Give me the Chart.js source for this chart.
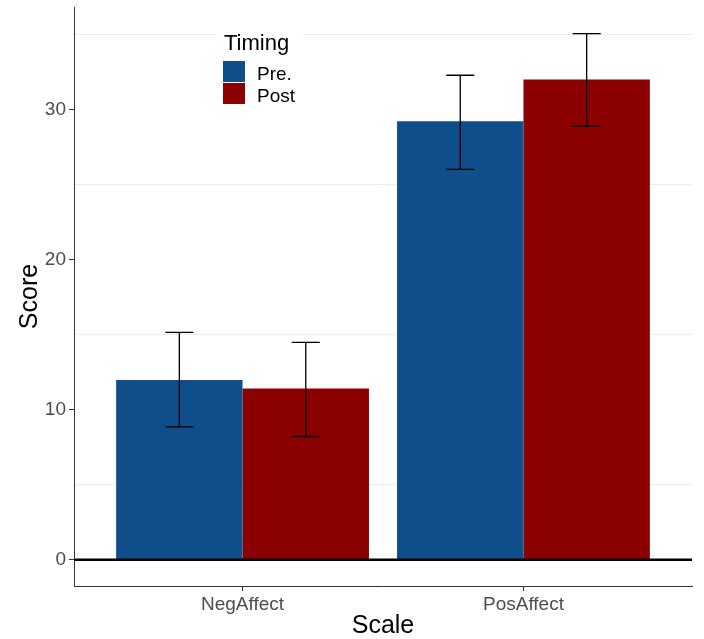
<!DOCTYPE html>
<html>
<head>
<meta charset="utf-8">
<script src="https://cdn.jsdelivr.net/npm/chart.js@4.4.1/dist/chart.umd.min.js"></script>
<style>
  body { margin: 0; background: #fff; }
  #wrap { width: 704px; height: 639px; }
</style>
</head>
<body>
<div id="wrap"><canvas id="myChart" width="704" height="639"></canvas></div>
<script>
// data
const categories = ['NegAffect', 'PosAffect'];
const timing = ['Pre.', 'Post'];
const preScores = [11.98, 29.24];
const postScores = [11.42, 32.02];
const preLow = [8.86, 26.03];
const preHigh = [15.16, 32.31];
const postLow = [8.22, 28.9];
const postHigh = [14.5, 35.09];
const yTicks = [0, 10, 20, 30];
const yGrid = [5, 15, 25, 35];

const blue = '#104E8B';
const red = '#8B0000';
const font = 'Arial, "Liberation Sans", sans-serif';

function toPoints(vals) {
    return vals.map((v, i) => ({ x: i + 1, y: v }));
}

// error bars + zero line
const errorBars = {
    id: 'errorBars',
    afterDatasetsDraw(chart) {
        const ctx = chart.ctx;
        const xs = chart.scales.x;
        const ys = chart.scales.y;
        const area = chart.chartArea;

        // black line at 0
        ctx.save();
        ctx.strokeStyle = '#000';
        ctx.lineWidth = 2.5;
        ctx.beginPath();
        ctx.moveTo(area.left, ys.getPixelForValue(0));
        ctx.lineTo(area.right, ys.getPixelForValue(0));
        ctx.stroke();

        const cap = 0.05 * (xs.getPixelForValue(2) - xs.getPixelForValue(1));
        const lows = [preLow, postLow];
        const highs = [preHigh, postHigh];
        ctx.strokeStyle = '#000';
        ctx.lineWidth = 1.3;
        chart.data.datasets.forEach((ds, d) => {
            const meta = chart.getDatasetMeta(d);
            meta.data.forEach((bar, i) => {
                const x = bar.x;
                const y1 = ys.getPixelForValue(lows[d][i]);
                const y2 = ys.getPixelForValue(highs[d][i]);
                ctx.beginPath();
                ctx.moveTo(x, y1); ctx.lineTo(x, y2);
                ctx.moveTo(x - cap, y1); ctx.lineTo(x + cap, y1);
                ctx.moveTo(x - cap, y2); ctx.lineTo(x + cap, y2);
                ctx.stroke();
            });
        });
        ctx.restore();
    }
};

// legend inside the panel, top left
const insideLegend = {
    id: 'insideLegend',
    afterDraw(chart) {
        const ctx = chart.ctx;
        ctx.save();
        ctx.fillStyle = '#fff';
        ctx.fillRect(217, 20, 86, 92);

        ctx.fillStyle = '#000';
        ctx.font = '22px ' + font;
        ctx.textBaseline = 'alphabetic';
        ctx.fillText('Timing', 224, 49.5);

        ctx.font = '19px ' + font;
        chart.data.datasets.forEach((ds, d) => {
            const top = 61 + d * 22;
            ctx.fillStyle = ds.backgroundColor;
            ctx.fillRect(223, top, 22, 21);
            ctx.fillStyle = '#000';
            ctx.fillText(ds.label, 257, top + 19);
        });
        ctx.restore();
    }
};

const ctx = document.getElementById('myChart').getContext('2d');
const myChart = new Chart(ctx, {
    type: 'bar',
    data: {
        datasets: [
            { label: timing[0], data: toPoints(preScores), backgroundColor: blue, borderWidth: 0 },
            { label: timing[1], data: toPoints(postScores), backgroundColor: red, borderWidth: 0 }
        ]
    },
    options: {
        responsive: false,
        animation: false,
        categoryPercentage: 0.9,
        barPercentage: 1,
        layout: { padding: { top: 7, right: 12, left: 0, bottom: 0 } },
        plugins: {
            legend: { display: false },
            tooltip: { enabled: false }
        },
        scales: {
            x: {
                type: 'linear',
                min: 0.4,
                max: 2.6,
                offset: false,
                afterBuildTicks: s => { s.ticks = categories.map((c, i) => ({ value: i + 1 })); },
                afterFit: s => { s.height = 53; s.paddingLeft = 0; s.paddingRight = 0; },
                ticks: {
                    callback: v => categories[v - 1],
                    color: '#4D4D4D',
                    font: { family: font, size: 19 },
                    padding: 2,
                    maxRotation: 0
                },
                grid: { offset: false, drawOnChartArea: false, drawTicks: true, tickLength: 5, tickColor: '#333' },
                border: { color: '#333', width: 1 },
                title: {
                    display: true,
                    text: 'Scale',
                    color: '#000',
                    font: { family: font, size: 25, lineHeight: 1 },
                    padding: 0
                }
            },
            y: {
                min: -1.75,
                max: 36.86,
                afterBuildTicks: s => {
                    s.ticks = yTicks.concat(yGrid).sort((a, b) => a - b).map(v => ({ value: v }));
                },
                afterFit: s => { s.width = 74; s.paddingTop = 0; s.paddingBottom = 0; },
                ticks: {
                    callback: v => (yTicks.includes(v) ? v : ''),
                    color: '#4D4D4D',
                    font: { family: font, size: 19 },
                    padding: 3
                },
                grid: {
                    color: c => (c.tick && yGrid.includes(c.tick.value) ? '#EBEBEB' : 'rgba(0,0,0,0)'),
                    tickColor: c => (c.tick && yTicks.includes(c.tick.value) ? '#333' : 'rgba(0,0,0,0)'),
                    tickLength: 5,
                    lineWidth: 1
                },
                border: { color: '#333', width: 1 },
                title: {
                    display: true,
                    text: 'Score',
                    color: '#000',
                    font: { family: font, size: 25, lineHeight: 1 },
                    padding: { top: 18, bottom: 0 }
                }
            }
        }
    },
    plugins: [errorBars, insideLegend]
});
</script>
</body>
</html>
